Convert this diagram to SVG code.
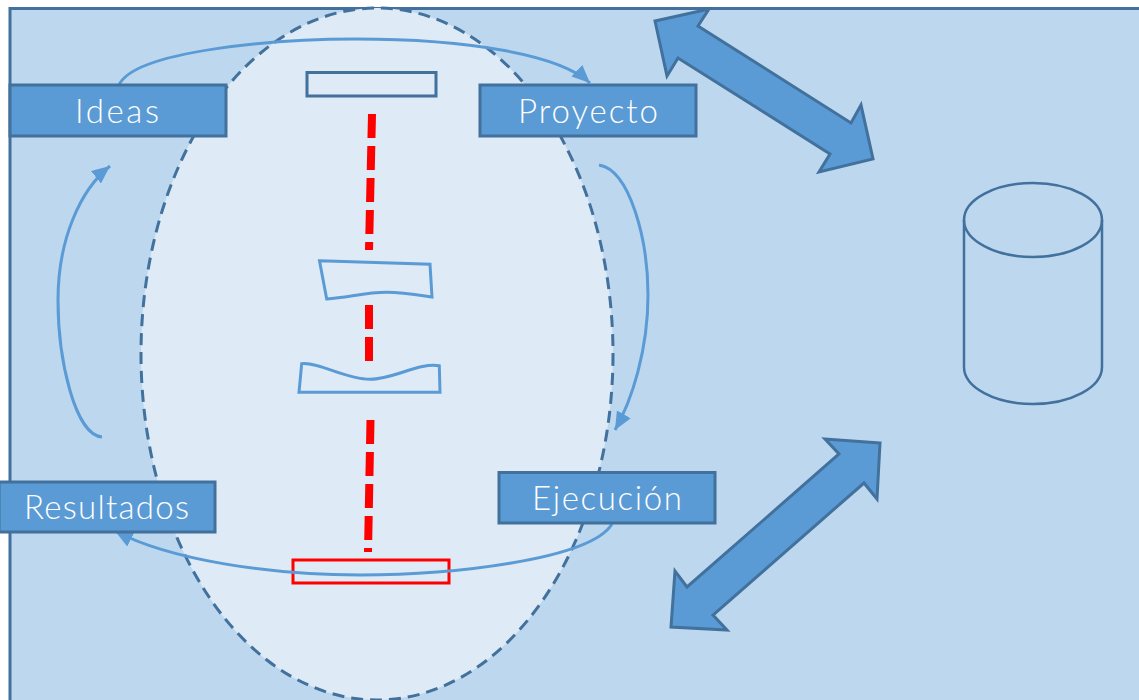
<svg xmlns="http://www.w3.org/2000/svg" width="1139" height="700" viewBox="0 0 1139 700">
<defs>
<marker id="head" markerUnits="userSpaceOnUse" markerWidth="20" markerHeight="18" refX="18" refY="8" orient="auto"><path d="M0 0L18 8L0 16Z" fill="#5B9BD5"/></marker>
</defs>
<style>
.box{fill:#5B9BD5;stroke:#41719C;stroke-width:3}
.label{font-family:"Lato","Open Sans",sans-serif;font-weight:300;font-size:33px;fill:#fff;text-anchor:middle}
.conn{fill:none;stroke:#5B9BD5;stroke-width:3;marker-end:url(#head)}
.big{fill:#5B9BD5;stroke:#41719C;stroke-width:3}
.thin{fill:none;stroke:#5B9BD5;stroke-width:3}
.dash{fill:none;stroke:#FF0000;stroke-width:8;stroke-dasharray:24 8}
</style>
<rect id="background" x="10" y="8.500" width="1140" height="710" fill="#BDD7EE" stroke="#41719C" stroke-width="3"/>
<ellipse id="oval" cx="377" cy="354" rx="236" ry="346" fill="#DEEAF6" stroke="#41719C" stroke-width="3" stroke-dasharray="12 7"/>
<g id="stage-top"><rect x="307" y="72.500" width="129" height="23.500" fill="none" stroke="#41719C" stroke-width="3"/></g>
<g id="stage-upper"><path class="thin" d="M319.500 260.700L430 264.300L432 297C415 294.500 402 292.300 386.700 292.300C366 292.300 350 297 326.700 299Z"/></g>
<g id="stage-lower"><path class="thin" d="M301.700 363.700C320 362 345 379.300 370 379.300C393 379.300 420 362 439.300 365.700L440 392.300L299 392.300Z"/></g>
<g id="stage-bottom"><rect x="293" y="560" width="156" height="23" fill="none" stroke="#FF0000" stroke-width="3"/></g>
<g id="connectors">
<path class="dash" d="M372 114L369 250"/>
<path class="dash" d="M369 305L369 362"/>
<path class="dash" d="M370.500 420L368 552"/>
<path class="conn" d="M119 85C135 50 280 39 355 39C470 39 560 55 590 83"/>
<path class="conn" d="M599 165C630 170 648 240 648 295C648 350 632 400 615 430"/>
<path class="conn" d="M612 524C590 560 450 575 360 575C270 575 170 560 115 531"/>
<path class="conn" d="M102 437C75 435 58 360 58 300C58 240 80 190 110 166"/>
</g>
<g id="arrow-top"><path class="big" d="M655 21L709 9L698 26L851 123L861 105L873 159L819 172L830 154L678 58L667 76Z"/></g>
<g id="arrow-bottom"><path class="big" d="M880 443L825 439L839 454L687 587L675 571L671 627L727 630L713 615L864 483L877 499Z"/></g>
<g id="database"><path d="M964 220V367C964 387.400 995 404 1033 404C1071 404 1102 387.400 1102 367V220" fill="none" stroke="#41719C" stroke-width="2.500"/><ellipse cx="1033" cy="220" rx="69" ry="37" fill="none" stroke="#41719C" stroke-width="2.500"/></g>
<g id="ideas"><rect class="box" x="10" y="85" width="216" height="51"/><text class="label" x="117" y="123" textLength="84" lengthAdjust="spacing">Ideas</text></g>
<g id="proyecto"><rect class="box" x="480" y="85" width="216" height="51"/><text class="label" x="588" y="123" textLength="140" lengthAdjust="spacing">Proyecto</text></g>
<g id="resultados"><rect class="box" x="-1" y="482" width="216" height="50"/><text class="label" x="106.500" y="519" textLength="165" lengthAdjust="spacing">Resultados</text></g>
<g id="ejecucion"><rect class="box" x="499" y="472.500" width="216" height="50.500"/><text class="label" x="607" y="510" textLength="150" lengthAdjust="spacing">Ejecución</text></g>
</svg>
